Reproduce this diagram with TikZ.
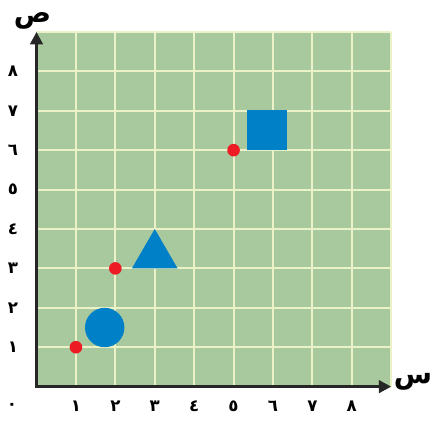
\documentclass[tikz,border=0pt]{standalone}
\usepackage{fontspec}
\newfontfamily\arabicfont[Script=Arabic]{DejaVu Sans}
\TeXXeTstate=1
\usetikzlibrary{arrows.meta}

\definecolor{gridgreen}{RGB}{168,200,158}
\definecolor{gridline}{RGB}{236,242,200}
\definecolor{shapeblue}{RGB}{0,128,198}
\definecolor{dotred}{RGB}{237,28,36}

\begin{document}
\begin{tikzpicture}[
    axis/.style={line width=2.3pt, draw=black!85, line cap=rect, -{Triangle[length=9pt,width=9pt]}},
    num/.style={font=\arabicfont\bfseries\fontsize{12}{14}\selectfont, inner sep=0pt},
    letter/.style={font=\arabicfont\bfseries\fontsize{20}{22}\selectfont, inner sep=0pt},
    dot/.style={circle, fill=dotred, inner sep=0pt, minimum size=0.32cm}
  ]
    \useasboundingbox (-0.926,-0.85) rectangle (10.06,9.81);

    % Grid paper
    \fill[gridgreen] (0,0) rectangle (9,9);
    \draw[gridline, line width=1.4pt] (0,0) grid (9,9);

    % Axes
    \coordinate (O) at (0,0);
    \coordinate (xend) at (9,0);
    \coordinate (yend) at (0,9);
    \draw[axis] (O) -- (xend);
    \draw[axis] (O) -- (yend);
    \node[letter] (xlab) at (9.55,0.12) {\beginR س\endR};
    \node[letter] (ylab) at (-0.1,9.28) {\beginR ص\endR};

    % Numbers on the axes
    \node[num] (zero) at (-0.62,-0.5) {٠};
    \foreach \i/\d in {1/١,2/٢,3/٣,4/٤,5/٥,6/٦,7/٧,8/٨} {
        \node[num] (x\i) at (\i,-0.5) {\d};
        \node[num] (y\i) at (-0.6,\i) {\d};
    }

    % Shapes
    \fill[shapeblue] (1.73,1.5) circle (0.5);
    \fill[shapeblue] (2.42,3) -- (3.58,3) -- (3,4) -- cycle;
    \fill[shapeblue] (5.34,6) rectangle (6.36,7.02);

    % Points
    \node[dot] (p1) at (1,1) {};
    \node[dot] (p2) at (2,3) {};
    \node[dot] (p3) at (5,6) {};
\end{tikzpicture}
\end{document}
